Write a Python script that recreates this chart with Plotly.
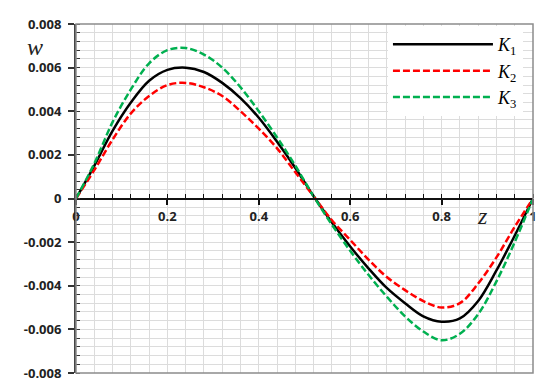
import plotly.graph_objects as go

z = [0.00, 0.04, 0.08, 0.12, 0.16, 0.20, 0.24, 0.28, 0.32, 0.36, 0.40, 0.44, 0.48,
     0.52, 0.56, 0.60, 0.64, 0.68, 0.72, 0.76, 0.80, 0.84, 0.88, 0.92, 0.96, 1.00]
k1 = [0, 0.0015, 0.0031, 0.0044, 0.0054, 0.0059, 0.0060, 0.0058, 0.0053, 0.0046, 0.0037, 0.0026, 0.0014,
      0.0001, -0.0011, -0.0022, -0.0032, -0.0041, -0.0048, -0.0054, -0.00565, -0.0055, -0.0047, -0.0033, -0.0017, 0]
k2 = [0, 0.0013, 0.0027, 0.0039, 0.0047, 0.0052, 0.0053, 0.0051, 0.0047, 0.0040, 0.0032, 0.0023, 0.0012,
      0.0001, -0.0010, -0.0019, -0.0028, -0.0036, -0.0042, -0.0047, -0.0050, -0.0048, -0.0039, -0.0027, -0.0013, 0]
k3 = [0, 0.0016, 0.0035, 0.0050, 0.0062, 0.0068, 0.0069, 0.0066, 0.0060, 0.0051, 0.0040, 0.0028, 0.0015,
      0.0001, -0.0012, -0.0024, -0.0035, -0.0045, -0.0054, -0.0061, -0.0065, -0.0062, -0.0053, -0.0038, -0.0020, 0]

names = ["<i>K</i><sub>1</sub>", "<i>K</i><sub>2</sub>", "<i>K</i><sub>3</sub>"]
colors = ["#000000", "#ff0000", "#00b050"]
dashes = ["solid", "7px,3px", "7px,3px"]

y_ticks = [-0.008, -0.006, -0.004, -0.002, 0, 0.002, 0.004, 0.006, 0.008]
y_text = ["-0.008", "-0.006", "-0.004", "-0.002", "0", "0.002", "0.004", "0.006", "0.008"]
x_ticks = [0, 0.2, 0.4, 0.6, 0.8, 0.9999]
x_text = ["0", "0.2", "0.4", "0.6", "0.8", "1"]

fig = go.Figure()
for ys, nm, c, d in zip([k1, k2, k3], names, colors, dashes):
    fig.add_trace(go.Scatter(x=z, y=ys, name=nm, mode="lines", line_shape="spline",
                             line=dict(color=c, width=2.5, dash=d)))

tickfont = dict(family="Open Sans", size=13, color="#222", weight="bold")
grid = "#dcdcdc"

# the page body adds 8px of margin, so the figure is a little smaller than the window
fig.update_layout(
    width=542, height=384,
    margin=dict(l=68, r=17, t=16, b=19),
    paper_bgcolor="white", plot_bgcolor="white",
    showlegend=True,
    legend=dict(x=0.978, y=0.994, xanchor="right", yanchor="top", bgcolor="white",
                font=dict(family="Liberation Serif", size=18, color="#000"),
                itemwidth=100, tracegroupgap=0),
    xaxis=dict(range=[0, 1], tickvals=x_ticks, ticktext=x_text, tickfont=tickfont,
               anchor="free", position=0.5, automargin=False, ticklabeloverflow="allow",
               showline=True, linecolor="#111", linewidth=1.5,
               ticks="outside", ticklen=6, tickwidth=1.5, tickcolor="#111",
               showgrid=True, gridcolor=grid, gridwidth=1, zeroline=False,
               minor=dict(dtick=0.04, showgrid=True, gridcolor=grid, gridwidth=1,
                          ticks="inside", ticklen=4, tickcolor="#111", tickwidth=1.2)),
    yaxis=dict(range=[-0.008, 0.008], tickvals=y_ticks, ticktext=y_text, tickfont=tickfont,
               automargin=False, ticklabelstandoff=4,
               showline=True, linecolor="#444", linewidth=2,
               ticks="outside", ticklen=6, tickwidth=1.5, tickcolor="#333",
               showgrid=True, gridcolor=grid, gridwidth=1, zeroline=False,
               minor=dict(dtick=0.0004, showgrid=True, gridcolor=grid, gridwidth=1,
                          ticks="inside", ticklen=4, tickcolor="#333", tickwidth=1.2)),
    shapes=[dict(type="rect", xref="paper", yref="paper", x0=0, x1=1, y0=0, y1=1,
                 line=dict(color="#8c8c8c", width=1.5), layer="above")],
    annotations=[
        dict(text="<i>w</i>", xref="paper", yref="paper", x=-0.09, y=0.934,
             xanchor="center", yanchor="middle",
             showarrow=False, font=dict(family="Liberation Serif", size=24, color="#222")),
        dict(text="<i>z</i>", xref="paper", yref="paper", x=0.89, y=0.45,
             xanchor="center", yanchor="middle",
             showarrow=False, font=dict(family="Liberation Serif", size=24, color="#222")),
    ],
)

fig.write_html("out.html")
